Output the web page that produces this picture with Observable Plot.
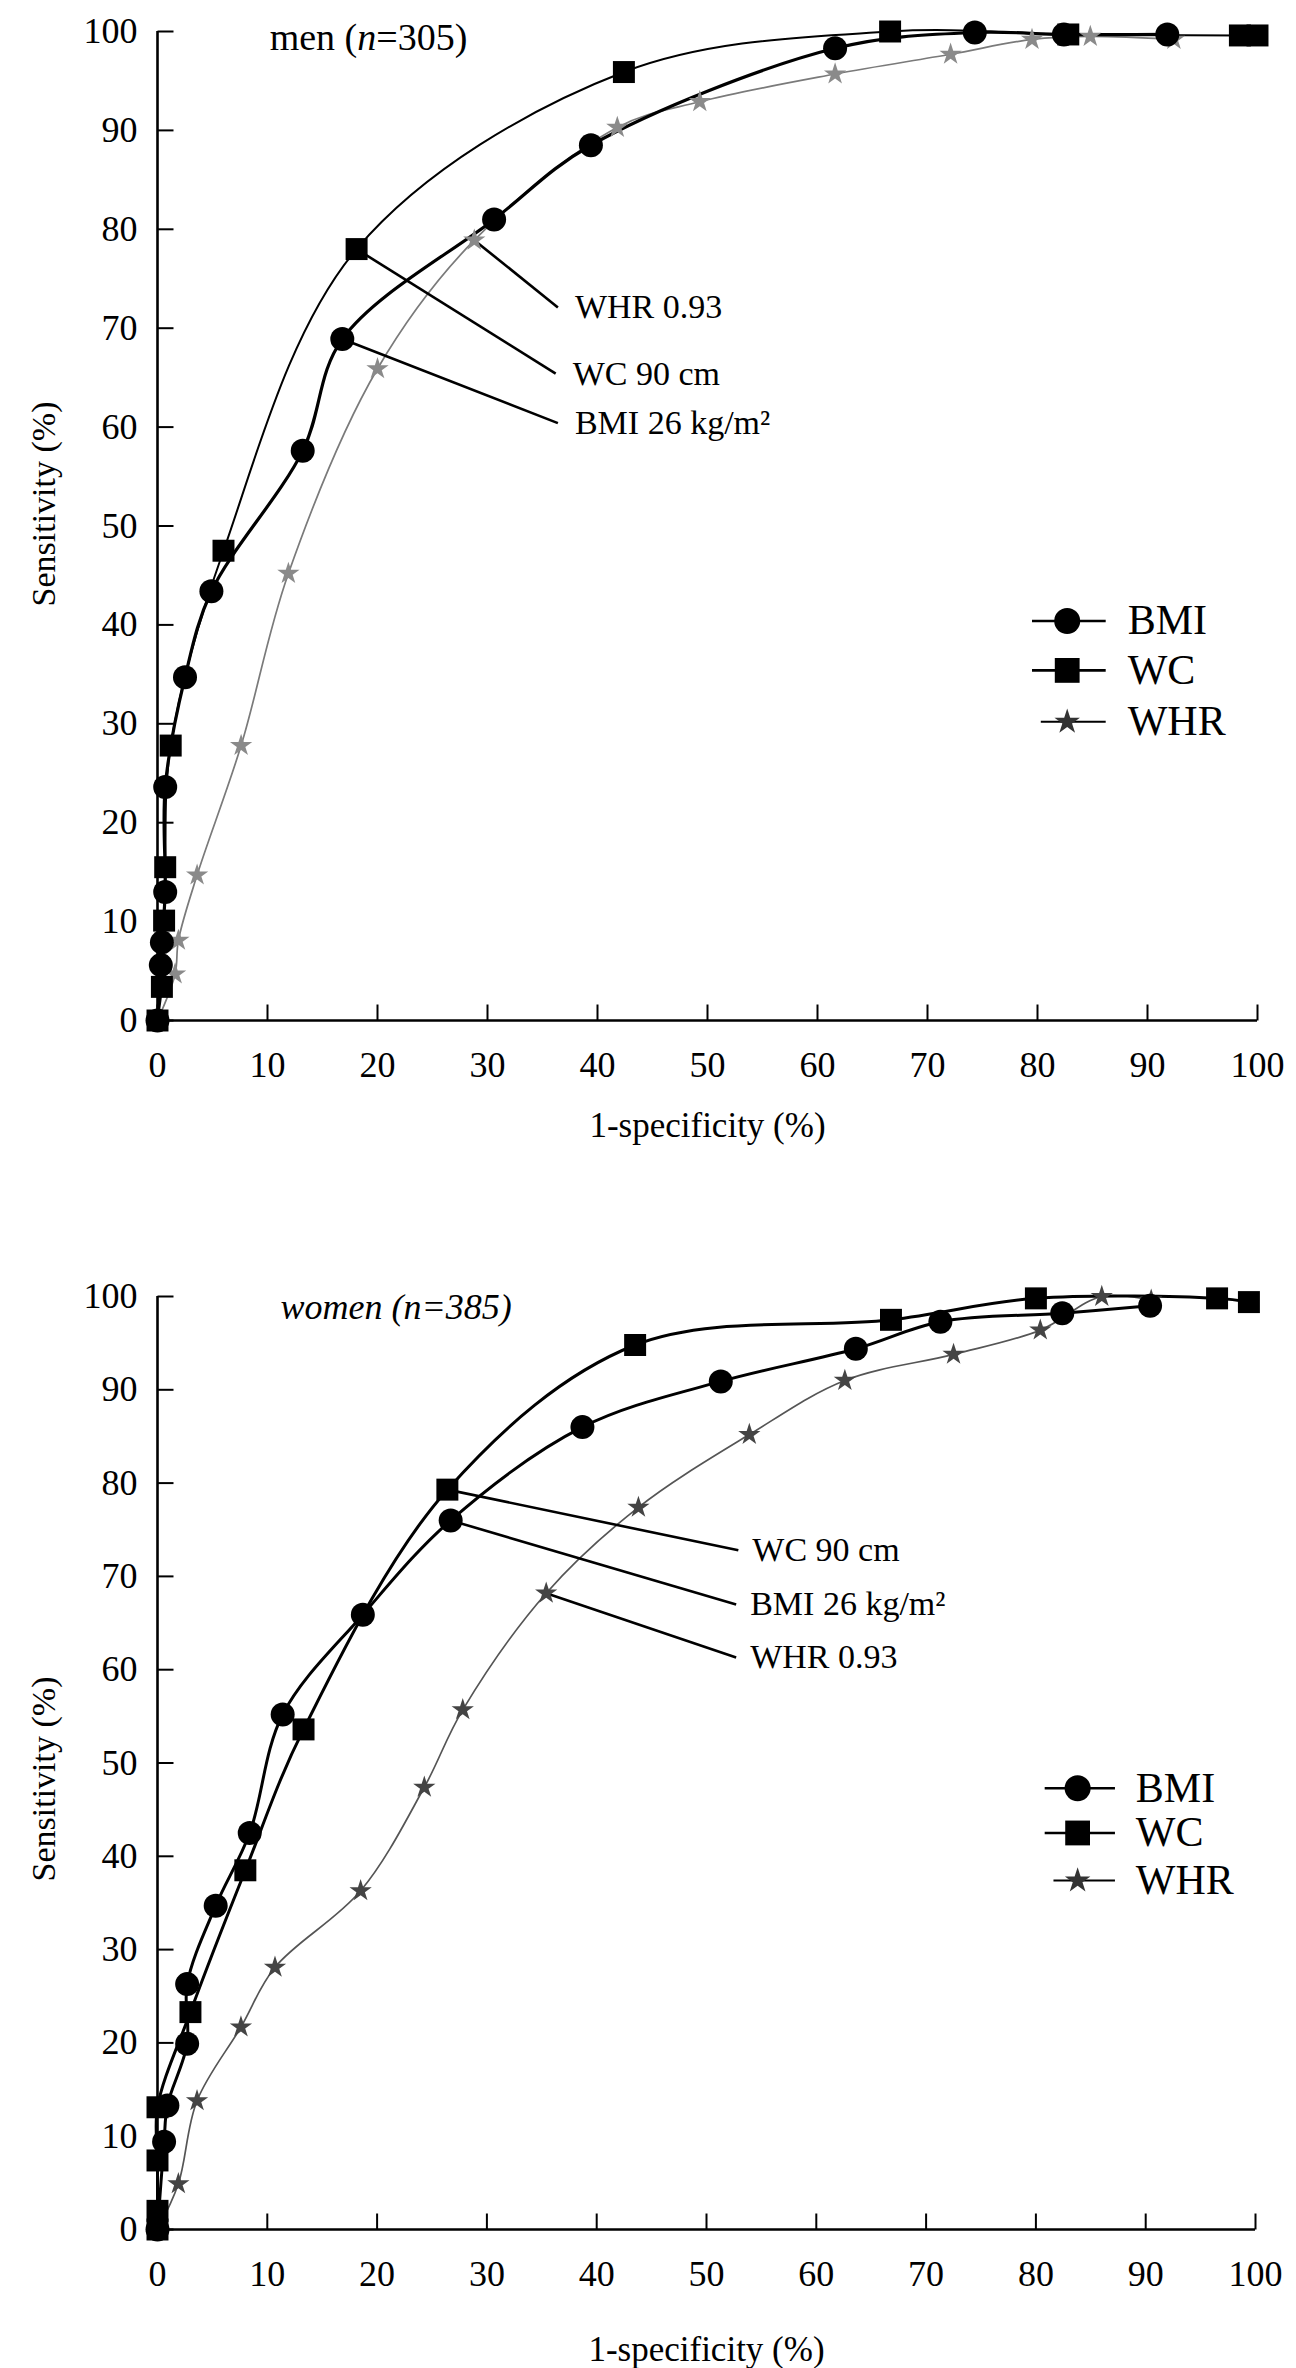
<!DOCTYPE html>
<html><head><meta charset="utf-8">
<script src="https://cdn.jsdelivr.net/npm/d3@7"></script>
<script src="https://cdn.jsdelivr.net/npm/@observablehq/plot@0.6"></script>
<style>
html,body{margin:0;padding:0;background:#fff;}
#wrap{width:1296px;}
#wrap svg{display:block;}
</style></head><body><div id="wrap"></div>
<script>
// ---------- data (1-specificity %, sensitivity %) ----------
const tickValues = [0,10,20,30,40,50,60,70,80,90,100];
const seriesNames = ["BMI","WC","WHR"];

const menBMI = [[0,0],[0.3,5.6],[0.4,7.9],[0.7,13.0],[0.7,23.6],[2.5,34.7],[4.9,43.4],[13.2,57.6],[16.8,68.9],[30.6,81.0],[39.4,88.5],[61.6,98.3],[74.3,99.9],[82.4,99.7],[91.8,99.7]];
const menWC  = [[0,0],[0.4,3.4],[0.6,10.1],[0.7,15.5],[1.2,27.8],[6.0,47.5],[18.1,78.0],[42.4,95.9],[66.6,100],[82.8,99.7],[98.4,99.6],[100,99.6]];
const menWHR = [[0,0],[1.6,4.7],[1.9,8.1],[3.6,14.7],[7.6,27.8],[11.9,45.2],[20.0,65.9],[28.8,78.9],[41.8,90.3],[49.3,92.9],[61.6,95.7],[72.1,97.7],[79.5,99.2],[84.8,99.5],[92.4,99.2]];

const womenBMI = [[0,0],[0.6,9.4],[0.9,13.3],[2.7,19.9],[2.7,26.3],[5.3,34.7],[8.4,42.5],[11.4,55.2],[18.7,65.9],[26.7,76.0],[38.7,86.0],[51.3,90.9],[63.6,94.4],[71.3,97.3],[82.4,98.2],[90.4,99.0]];
const womenWC  = [[0,0],[0,2.0],[0,7.4],[0,13.1],[3.0,23.3],[8.0,38.5],[13.3,53.6],[26.4,79.3],[43.5,94.8],[66.8,97.5],[80.0,99.8],[96.5,99.8],[99.4,99.4]];
const womenWHR = [[0,0],[1.9,4.9],[3.6,13.8],[7.6,21.7],[10.7,28.1],[18.5,36.3],[24.3,47.4],[27.8,55.7],[35.4,68.2],[43.8,77.4],[53.9,85.2],[62.6,91.0],[72.5,93.8],[80.4,96.4],[86.0,100],[90.5,99.6]];

// cut-off annotations: leader from the point to the label
const menLeaders = [
  {label:"WHR 0.93",     x1:28.8, y1:78.9, x2:36.4, y2:72.1},
  {label:"WC 90 cm",     x1:18.1, y1:78.0, x2:36.2, y2:65.4},
  {label:"BMI 26 kg/m²", x1:16.8, y1:68.9, x2:36.4, y2:60.4}
];
const womenLeaders = [
  {label:"WC 90 cm",     x1:26.4, y1:79.3, x2:52.9, y2:72.8},
  {label:"BMI 26 kg/m²", x1:26.7, y1:76.0, x2:52.7, y2:67.0},
  {label:"WHR 0.93",     x1:35.4, y1:68.2, x2:52.7, y2:61.3}
];

const FONT = '"Liberation Serif","Times New Roman",Times,serif';

function chart(cfg){
  const W = 1296, H = 1184;
  const kx = (W - cfg.mL - cfg.mR) / 100, ky = (H - cfg.mT - cfg.mB) / 100;
  const rows = arr => arr.map(([x,y]) => ({x,y}));
  const bmi = rows(cfg.bmi), wc = rows(cfg.wc), whr = rows(cfg.whr);
  const lg = cfg.legend;
  const leg = seriesNames.map((s,i) => ({s, y: lg.ys[i]}));
  const curve = "catmull-rom";
  const svg = Plot.plot({
    width: W, height: H,
    marginLeft: cfg.mL, marginRight: cfg.mR, marginTop: cfg.mT, marginBottom: cfg.mB,
    x: {domain:[0,100]}, y: {domain:[0,100]},
    style: {fontFamily: FONT, fontSize: "35px", color: "black", background: "white", overflow: "visible"},
    marks: [
      Plot.axisY({ticks: tickValues, tickSize: 0, tickPadding: 20, label: null, fontSize: 36}),
      Plot.axisX({ticks: tickValues, tickSize: 0, tickPadding: 31, label: null, fontSize: 36}),
      Plot.ruleX([0], {y1: 0, y2: 100, stroke: "black", strokeWidth: 2.6}),
      Plot.ruleY([0], {x1: 0, x2: 100, stroke: "black", strokeWidth: 2.6}),
      Plot.link(tickValues, {x1: 0, x2: 16 / kx, y1: d => d, y2: d => d, stroke: "black", strokeWidth: 2}),
      Plot.link(tickValues, {x1: d => d, x2: d => d, y1: 0, y2: 16 / ky, stroke: "black", strokeWidth: 2}),
      Plot.line(whr, {x: "x", y: "y", curve, stroke: cfg.whrLine, strokeWidth: 1.7}),
      Plot.line(bmi, {x: "x", y: "y", curve, stroke: "black", strokeWidth: cfg.bmiW}),
      Plot.line(wc,  {x: "x", y: "y", curve, stroke: "black", strokeWidth: cfg.wcW}),
      Plot.link(cfg.leaders, {x1: "x1", y1: "y1", x2: "x2", y2: "y2", stroke: "black", strokeWidth: 2.6}),
      Plot.dot(whr, {x: "x", y: "y", symbol: "star", r: 7, fill: cfg.whrFill}),
      Plot.dot(bmi, {x: "x", y: "y", r: 12, fill: "black"}),
      Plot.dot(wc,  {x: "x", y: "y", symbol: "square", r: 12.4, fill: "black"}),
      Plot.text(cfg.leaders, {x: "x2", y: "y2", text: "label", textAnchor: "start", dx: cfg.leaderDx, fontSize: 34, fill: "black"}),
      Plot.text([cfg.title], {x: () => cfg.titleX, y: () => cfg.titleY, text: d => d, textAnchor: "start", fontSize: cfg.titleSize, fontStyle: cfg.titleItalic ? "italic" : "normal", fill: "black"}),
      // legend
      Plot.link(leg, {filter: d => d.s !== "WHR", x1: () => lg.x1, x2: () => lg.x2, y1: "y", y2: "y", stroke: "black", strokeWidth: 2.6}),
      Plot.link(leg, {filter: d => d.s === "WHR", x1: () => lg.x1 + 0.8, x2: () => lg.x2, y1: "y", y2: "y", stroke: "black", strokeWidth: 2}),
      Plot.dot(leg, {filter: d => d.s === "BMI", x: () => lg.xm, y: "y", r: 13, fill: "black"}),
      Plot.dot(leg, {filter: d => d.s === "WC", x: () => lg.xm, y: "y", symbol: "square", r: 14, fill: "black"}),
      Plot.dot(leg, {filter: d => d.s === "WHR", x: () => lg.xm, y: "y", symbol: "star", r: 8, fill: "#333"}),
      Plot.text(leg, {x: () => lg.xt, y: "y", text: "s", textAnchor: "start", fontSize: 42, fill: "black"}),
      // axis titles
      Plot.text(["Sensitivity (%)"], {frameAnchor: "left", rotate: -90, textAnchor: "middle", lineAnchor: "middle", dx: -113, dy: cfg.yLabDy, fontSize: 34, fill: "black"}),
      Plot.text(["1-specificity (%)"], {frameAnchor: "bottom", textAnchor: "middle", lineAnchor: "middle", dy: cfg.xLabDy, fontSize: 35, fill: "black"})
    ]
  });
  svg.querySelectorAll("text").forEach(t => {
    if (t.textContent === "men (n=305)") t.innerHTML = 'men (<tspan font-style="italic">n</tspan>=305)';
  });
  return svg;
}

const wrap = document.getElementById("wrap");
wrap.appendChild(chart({
  mL: 157, mR: 39, mT: 31, mB: 164,
  bmi: menBMI, wc: menWC, whr: menWHR,
  bmiW: 3.2, wcW: 2, whrLine: "#7a7a7a", whrFill: "#8a8a8a",
  leaders: menLeaders, leaderDx: 17,
  title: "men (n=305)", titleX: 10.2, titleY: 99.4, titleItalic: false, titleSize: 38,
  legend: {x1: 79.5, x2: 86.2, xm: 82.7, xt: 88.2, ys: [40.4, 35.4, 30.2]},
  yLabDy: -22, xLabDy: 105
}));
wrap.appendChild(chart({
  mL: 157, mR: 41, mT: 112, mB: 139,
  bmi: womenBMI, wc: womenWC, whr: womenWHR,
  bmiW: 3, wcW: 3, whrLine: "#555", whrFill: "#444",
  leaders: womenLeaders, leaderDx: 14,
  title: "women (n=385)", titleX: 11.2, titleY: 98.8, titleItalic: true, titleSize: 36,
  legend: {x1: 80.8, x2: 87.2, xm: 83.8, xt: 89.1, ys: [47.3, 42.5, 37.4]},
  yLabDy: 16, xLabDy: 120
}));
</script>
</body></html>
